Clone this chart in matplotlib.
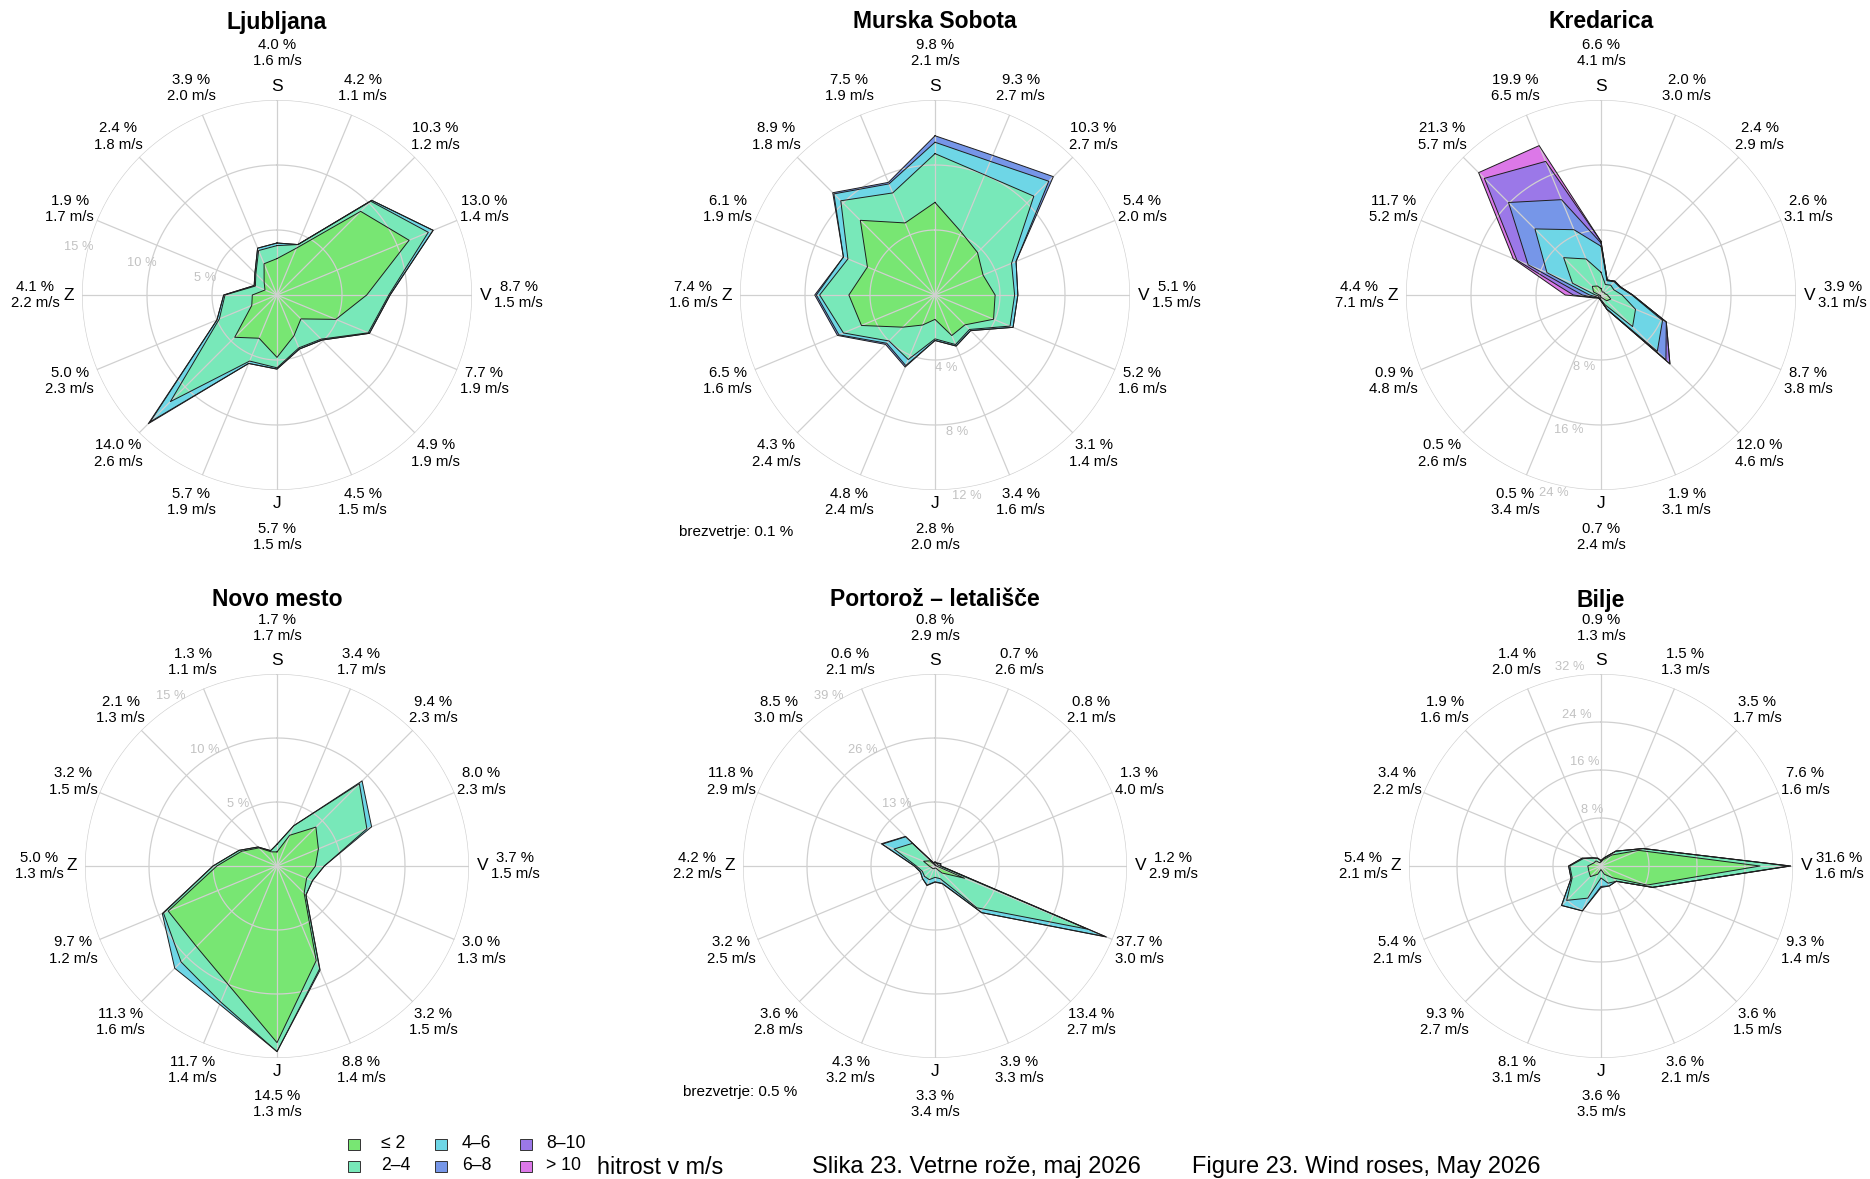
import numpy as np
import matplotlib
matplotlib.use("Agg")
import matplotlib.pyplot as plt
from matplotlib.patches import Rectangle

plt.rcParams['font.family'] = ['Liberation Sans', 'DejaVu Sans']

# ---------------- data ----------------
directions = ['N', 'NNE', 'NE', 'ENE', 'E', 'ESE', 'SE', 'SSE',
              'S', 'SSW', 'SW', 'WSW', 'W', 'WNW', 'NW', 'NNW']
cardinal_labels = ['S', 'V', 'J', 'Z']
speed_classes = ['≤ 2', '2–4', '4–6', '6–8', '8–10', '> 10']
class_colors = ['#78E673', '#78E8B9', '#6ED6E6', '#7696E8', '#9B78E8', '#DC78E8']

# Ljubljana
lj_pct = [4.0, 4.2, 10.3, 13.0, 8.7, 7.7, 4.9, 4.5, 5.7, 5.7, 14.0, 5.0, 4.1, 1.9, 2.4, 3.9]
lj_spd = [1.6, 1.1, 1.2, 1.4, 1.5, 1.9, 1.9, 1.5, 1.5, 1.9, 2.6, 2.3, 2.2, 1.7, 1.8, 2.0]
lj_c1 = [2.8, 3.9, 9.1, 11.0, 6.9, 4.9, 2.6, 3.4, 4.8, 3.6, 4.6, 2.1, 1.9, 1.0, 1.4, 2.6]
lj_c2 = [1.0, 0.3, 1.1, 1.6, 1.7, 2.7, 2.2, 1.0, 0.8, 1.9, 7.0, 2.7, 2.1, 0.8, 0.9, 1.1]
lj_c3 = [0.2, 0.0, 0.1, 0.4, 0.1, 0.1, 0.1, 0.1, 0.1, 0.2, 2.2, 0.2, 0.1, 0.1, 0.1, 0.2]
lj_c4 = [0.0, 0.0, 0.0, 0.0, 0.0, 0.0, 0.0, 0.0, 0.0, 0.0, 0.2, 0.0, 0.0, 0.0, 0.0, 0.0]
lj_rings = [5, 10, 15]

# Murska Sobota
ms_pct = [9.8, 9.3, 10.3, 5.4, 5.1, 5.2, 3.1, 3.4, 2.8, 4.8, 4.3, 6.5, 7.4, 6.1, 8.9, 7.5]
ms_spd = [2.1, 2.7, 2.7, 2.0, 1.5, 1.6, 1.4, 1.6, 2.0, 2.4, 2.4, 1.6, 1.6, 1.9, 1.8, 1.9]
ms_c1 = [5.7, 4.2, 3.7, 3.2, 3.7, 3.9, 2.6, 2.7, 1.5, 2.0, 2.8, 4.9, 5.3, 4.5, 6.5, 4.8]
ms_c2 = [3.0, 3.8, 4.9, 1.9, 1.2, 1.1, 0.4, 0.6, 1.2, 2.3, 1.2, 1.2, 1.8, 1.3, 1.7, 2.0]
ms_c3 = [0.7, 0.9, 1.3, 0.3, 0.2, 0.2, 0.1, 0.1, 0.1, 0.4, 0.2, 0.3, 0.2, 0.3, 0.6, 0.6]
ms_c4 = [0.4, 0.4, 0.4, 0.0, 0.0, 0.0, 0.0, 0.0, 0.0, 0.1, 0.1, 0.1, 0.1, 0.0, 0.1, 0.1]
ms_rings = [4, 8, 12]
ms_calm = 0.1

# Kredarica
kr_pct = [6.6, 2.0, 2.4, 2.6, 3.9, 8.7, 12.0, 1.9, 0.7, 0.5, 0.5, 0.9, 4.4, 11.7, 21.3, 19.9]
kr_spd = [4.1, 3.0, 2.9, 3.1, 3.1, 3.8, 4.6, 3.1, 2.4, 3.4, 2.6, 4.8, 7.1, 5.2, 5.7, 6.5]
kr_c1 = [0.8, 0.4, 0.5, 0.5, 0.8, 1.3, 1.0, 0.4, 0.3, 0.1, 0.2, 0.1, 0.2, 1.0, 1.5, 1.2]
kr_c2 = [2.0, 1.0, 1.2, 1.2, 1.8, 3.3, 4.5, 0.9, 0.3, 0.2, 0.2, 0.2, 0.5, 2.8, 5.0, 3.6]
kr_c3 = [3.2, 0.5, 0.6, 0.8, 1.2, 3.6, 4.3, 0.6, 0.1, 0.2, 0.1, 0.3, 0.7, 3.4, 5.0, 3.9]
kr_c4 = [0.4, 0.1, 0.1, 0.1, 0.1, 0.5, 1.5, 0.0, 0.0, 0.0, 0.0, 0.2, 0.9, 2.5, 4.6, 4.0]
kr_c5 = [0.2, 0.0, 0.0, 0.0, 0.0, 0.0, 0.7, 0.0, 0.0, 0.0, 0.0, 0.1, 1.1, 1.5, 4.2, 5.1]
kr_c6 = [0.0, 0.0, 0.0, 0.0, 0.0, 0.0, 0.0, 0.0, 0.0, 0.0, 0.0, 0.0, 1.0, 0.5, 1.0, 2.1]
kr_rings = [8, 16, 24]

# Novo mesto
nm_pct = [1.7, 3.4, 9.4, 8.0, 3.7, 3.0, 3.2, 8.8, 14.5, 11.7, 11.3, 9.7, 5.0, 3.2, 2.1, 1.3]
nm_spd = [1.7, 1.7, 2.3, 2.3, 1.5, 1.3, 1.5, 1.4, 1.3, 1.4, 1.6, 1.2, 1.3, 1.5, 1.3, 1.1]
nm_c1 = [1.1, 2.6, 4.3, 3.5, 3.0, 2.5, 3.0, 8.0, 13.8, 10.0, 8.9, 9.2, 4.7, 3.0, 2.0, 1.2]
nm_c2 = [0.6, 0.8, 4.8, 4.1, 0.7, 0.5, 0.2, 0.7, 0.7, 1.5, 1.7, 0.4, 0.3, 0.2, 0.1, 0.1]
nm_c3 = [0.0, 0.0, 0.3, 0.4, 0.0, 0.0, 0.0, 0.1, 0.0, 0.2, 0.7, 0.1, 0.0, 0.0, 0.0, 0.0]
nm_rings = [5, 10, 15]

# Portoroz - letalisce
pt_pct = [0.8, 0.7, 0.8, 1.3, 1.2, 37.7, 13.4, 3.9, 3.3, 4.3, 3.6, 3.2, 4.2, 11.8, 8.5, 0.6]
pt_spd = [2.9, 2.6, 2.1, 4.0, 2.9, 3.0, 2.7, 3.3, 3.4, 3.2, 2.8, 2.5, 2.2, 2.9, 3.0, 2.1]
pt_c1 = [0.2, 0.2, 0.3, 0.1, 0.3, 6.5, 2.0, 0.5, 0.4, 0.6, 0.7, 0.8, 1.2, 2.5, 1.5, 0.3]
pt_c2 = [0.5, 0.4, 0.4, 0.5, 0.7, 27.0, 10.0, 2.3, 1.9, 2.4, 2.3, 2.0, 2.6, 6.5, 5.0, 0.3]
pt_c3 = [0.1, 0.1, 0.1, 0.5, 0.2, 4.0, 1.4, 1.0, 0.9, 1.2, 0.6, 0.4, 0.4, 2.6, 1.9, 0.0]
pt_c4 = [0.0, 0.0, 0.0, 0.2, 0.0, 0.2, 0.0, 0.1, 0.1, 0.1, 0.0, 0.0, 0.0, 0.2, 0.1, 0.0]
pt_rings = [13, 26, 39]
pt_calm = 0.5

# Bilje
bi_pct = [0.9, 1.5, 3.5, 7.6, 31.6, 9.3, 3.6, 3.6, 3.6, 8.1, 9.3, 5.4, 5.4, 3.4, 1.9, 1.4]
bi_spd = [1.3, 1.3, 1.7, 1.6, 1.6, 1.4, 1.5, 2.1, 3.5, 3.1, 2.7, 2.1, 2.1, 2.2, 1.6, 2.0]
bi_c1 = [0.7, 1.2, 2.6, 6.8, 26.5, 8.3, 2.8, 1.5, 0.6, 1.5, 2.5, 2.2, 2.2, 1.3, 1.2, 0.6]
bi_c2 = [0.2, 0.3, 0.9, 0.8, 4.8, 1.0, 0.8, 1.6, 1.4, 4.3, 5.6, 3.0, 3.0, 1.9, 0.7, 0.8]
bi_c3 = [0.0, 0.0, 0.0, 0.0, 0.3, 0.0, 0.0, 0.5, 1.4, 2.3, 1.2, 0.2, 0.2, 0.2, 0.0, 0.0]
bi_c4 = [0.0, 0.0, 0.0, 0.0, 0.0, 0.0, 0.0, 0.0, 0.2, 0.0, 0.0, 0.0, 0.0, 0.0, 0.0, 0.0]
bi_rings = [8, 16, 24, 32]

zero16 = [0.0] * 16

# ---------------- figure ----------------
W, H = 1870, 1179
fig = plt.figure(figsize=(W / 100, H / 100), dpi=100)

bearings = np.arange(16) * 22.5
theta = np.deg2rad(bearings)
grid_color = '#d0d0d0'


def draw_rose(name, cx, cy, R, classes, pct, spd, rings, ring_bearing,
              title_y, calm=None, calm_xy=None):
    ax = fig.add_axes([(cx - R) / W, (H - cy - R) / H, 2 * R / W, 2 * R / H],
                      projection='polar')
    ax.set_theta_zero_location('N')
    ax.set_theta_direction(-1)
    rmax = rings[-1]
    ax.set_ylim(0, rmax)
    ax.set_axis_off()

    arr = np.array(classes, dtype=float)
    cum = np.cumsum(arr, axis=0)
    th = np.append(theta, theta[0])
    used = [k for k in range(arr.shape[0]) if np.any(arr[k] > 0)]
    for k in reversed(used):
        r = np.append(cum[k], cum[k][0])
        ax.fill(th, r, facecolor=class_colors[k], edgecolor='none', zorder=1)

    tt = np.linspace(0, 2 * np.pi, 721)
    for rv in rings:
        ax.plot(tt, np.full_like(tt, rv), color=grid_color, lw=0.9, zorder=2)
    for t in theta:
        ax.plot([t, t], [0, rmax], color=grid_color, lw=0.9, zorder=2)

    for k in reversed(used):
        r = np.append(cum[k], cum[k][0])
        ax.plot(th, r, color='#1e1e1e', lw=0.7, zorder=3)

    for rv in rings:
        ax.text(np.deg2rad(ring_bearing), rv + 9.0 / R * rmax, f"{rv} %",
                color='#c2c2c2', fontsize=9.3, ha='center', va='center',
                zorder=4, clip_on=False)

    for i in range(16):
        card = (i % 4 == 0)
        rr = rmax * (1.24 if card else 1.15)
        ax.text(theta[i], rr, f"{pct[i]:.1f} %\n{spd[i]:.1f} m/s",
                ha='center', va='center', fontsize=10.7, clip_on=False,
                linespacing=1.22)
    for j, lab in enumerate(cardinal_labels):
        ax.text(theta[4 * j], rmax * 1.07, lab, ha='center', va='center',
                fontsize=12.5, clip_on=False)

    fig.text(cx / W, 1 - title_y / H, name, ha='center', va='center',
             fontsize=16.5, fontweight='bold')
    if calm is not None:
        fig.text(calm_xy[0] / W, 1 - calm_xy[1] / H, f"brezvetrje: {calm:.1f} %",
                 ha='left', va='center', fontsize=11)


draw_rose('Ljubljana', 277, 295, 195,
          [lj_c1, lj_c2, lj_c3, lj_c4, zero16, zero16], lj_pct, lj_spd,
          lj_rings, 283.5, 22)
draw_rose('Murska Sobota', 935, 295, 195,
          [ms_c1, ms_c2, ms_c3, ms_c4, zero16, zero16], ms_pct, ms_spd,
          ms_rings, 171.0, 22, ms_calm, (679, 532))
draw_rose('Kredarica', 1601, 295, 195,
          [kr_c1, kr_c2, kr_c3, kr_c4, kr_c5, kr_c6], kr_pct, kr_spd,
          kr_rings, 193.5, 22)
draw_rose('Novo mesto', 277, 866, 192,
          [nm_c1, nm_c2, nm_c3, zero16, zero16, zero16], nm_pct, nm_spd,
          nm_rings, 328.0, 600)
draw_rose('Portorož – letališče', 935, 866, 192,
          [pt_c1, pt_c2, pt_c3, pt_c4, zero16, zero16], pt_pct, pt_spd,
          pt_rings, 328.0, 600, pt_calm, (683, 1092))
draw_rose('Bilje', 1601, 866, 192,
          [bi_c1, bi_c2, bi_c3, bi_c4, zero16, zero16], bi_pct, bi_spd,
          bi_rings, 351.0, 600)

# ---------------- legend ----------------
sq_x = [348, 435, 520]
txt_x = [381, 462, 546]
row_y = [1144, 1166]
sq_w, sq_h = 12, 11
for k, lab in enumerate(speed_classes):
    col, row = k // 2, k % 2
    y = row_y[row]
    fig.patches.append(Rectangle((sq_x[col] / W, 1 - (y + sq_h / 2) / H),
                                 sq_w / W, sq_h / H, transform=fig.transFigure,
                                 facecolor=class_colors[k], edgecolor='#333333',
                                 lw=0.7))
    fig.text(txt_x[col] / W, 1 - y / H, lab, ha='left', va='center', fontsize=12.7)

fig.text(597 / W, 1 - 1167 / H, 'hitrost v m/s', ha='left', va='center', fontsize=16.8)
fig.text(812 / W, 1 - 1167 / H, 'Slika 23. Vetrne rože, maj 2026', ha='left',
         va='center', fontsize=17)
fig.text(1192 / W, 1 - 1167 / H, 'Figure 23. Wind roses, May 2026', ha='left',
         va='center', fontsize=17)

fig.savefig('out.png', dpi=100, facecolor='white')
